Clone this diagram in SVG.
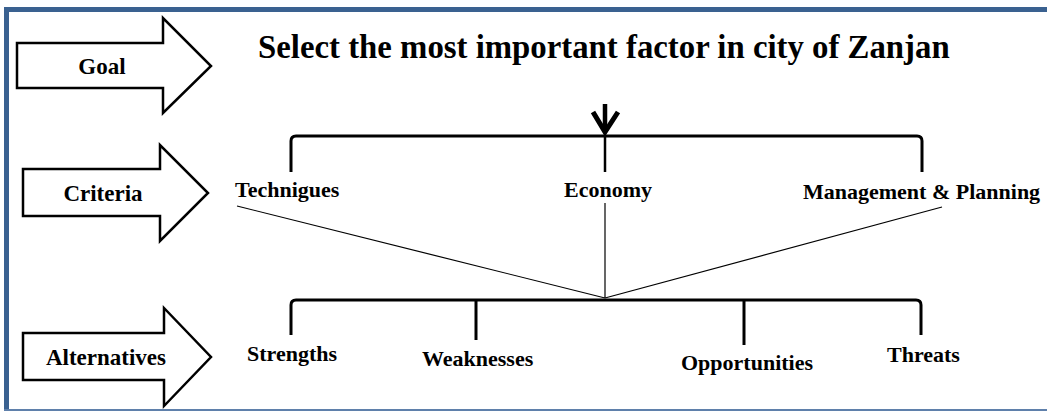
<svg xmlns="http://www.w3.org/2000/svg" width="1047" height="412" viewBox="0 0 1047 412">
<style>
.lbl{font-family:"Liberation Serif","Times New Roman",serif;font-weight:bold;fill:#000}
.big{font-size:23px;text-anchor:middle}
.item{font-size:22px}
.arrow{fill:#fff;stroke:#000;stroke-width:2.5;stroke-linejoin:miter}
.thick{fill:none;stroke:#000;stroke-width:3}
.thin{fill:none;stroke:#000;stroke-width:1.2}
</style>
<rect x="0" y="0" width="1047" height="412" fill="#fff"/>
<g id="frame">
<rect x="4" y="7" width="1043" height="5" fill="#3a6190"/>
<rect x="4" y="7" width="5" height="403" fill="#3a6190"/>
<rect x="4" y="409" width="1043" height="2" fill="#5f80ab"/>
</g>
<g id="goal-arrow">
<path class="arrow" d="M17,43 H163 V18 L211,66 L163,113 V88 H17 Z"/>
<text class="lbl big" x="102" y="74">Goal</text>
</g>
<g id="criteria-arrow">
<path class="arrow" d="M23,169 H160 V145 L208,193 L160,241 V216 H23 Z"/>
<text class="lbl big" x="103" y="201">Criteria</text>
</g>
<g id="alternatives-arrow">
<path class="arrow" d="M23,333 H164 V308 L211,357 L164,406 V380 H23 Z"/>
<text class="lbl big" x="106" y="365">Alternatives</text>
</g>
<g id="title">
<text class="lbl" x="258" y="58" font-size="32.8">Select the most important factor in city of Zanjan</text>
</g>
<g id="connectors">
<line x1="605" y1="104" x2="605" y2="130" stroke="#000" stroke-width="4.5"/>
<polyline points="593,112 605,132 618,112" fill="none" stroke="#000" stroke-width="5" stroke-linejoin="miter"/>
<path class="thick" d="M291,172 V141 Q291,136 296,136 H917 Q922,136 922,141 V172"/>
<line x1="605" y1="136" x2="605" y2="172" stroke="#000" stroke-width="2.5"/>
<line class="thin" x1="237" y1="206" x2="605" y2="298"/>
<line class="thin" x1="605" y1="203" x2="605" y2="298"/>
<line class="thin" x1="942" y1="207" x2="605" y2="298"/>
<path class="thick" d="M291,335 V305 Q291,300 296,300 H916 Q921,300 921,305 V335"/>
<line class="thick" x1="476" y1="300" x2="476" y2="340"/>
<line class="thick" x1="744" y1="300" x2="744" y2="345"/>
</g>
<g id="techniques"><text class="lbl item" x="235" y="197">Technigues</text></g>
<g id="economy"><text class="lbl item" x="564" y="197">Economy</text></g>
<g id="management"><text class="lbl item" x="803" y="199">Management &amp; Planning</text></g>
<g id="strengths"><text class="lbl item" x="247" y="361">Strengths</text></g>
<g id="weaknesses"><text class="lbl item" x="422" y="366">Weaknesses</text></g>
<g id="opportunities"><text class="lbl item" x="681" y="370">Opportunities</text></g>
<g id="threats"><text class="lbl item" x="887" y="362">Threats</text></g>
</svg>
